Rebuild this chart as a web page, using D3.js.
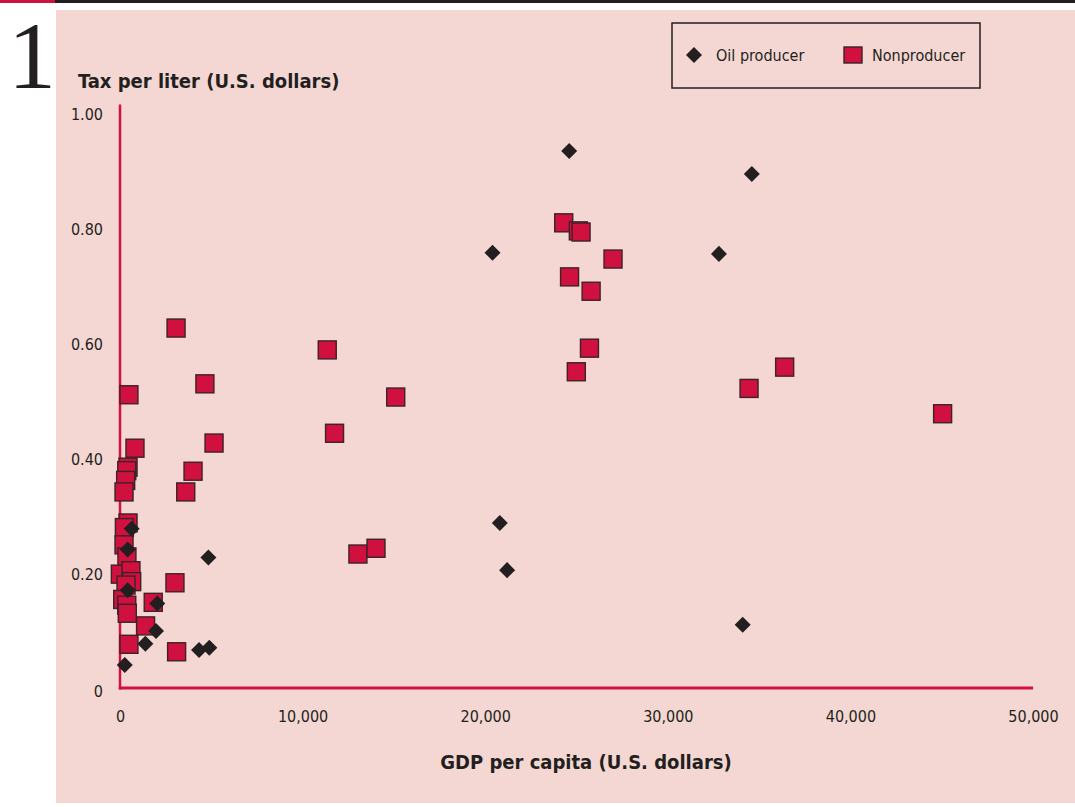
<!DOCTYPE html>
<html lang="en">
<head>
<meta charset="UTF-8">
<title>Tax per liter vs GDP per capita</title>
<script src="https://d3js.org/d3.v7.min.js"></script>
<style>
  body { margin: 0; background: #fff; }
  svg text { font-family: "Liberation Sans Narrow", "DejaVu Sans Condensed", sans-serif; fill: #231f20; }
  .tick text { font-size: 16px; }
  .axis-title { font-size: 20px; font-weight: bold; }
  .legend text { font-size: 16px; }
</style>
</head>
<body>
<div id="chart"></div>
<script>
// Oil producers (diamonds)
const oilGdp = [24600, 34600, 20400, 32800, 20800, 21200, 34100, 640, 420, 4840,
                420, 2040, 1970, 1390, 260, 4330, 4890];
const oilTax = [0.934, 0.894, 0.757, 0.755, 0.287, 0.205, 0.110, 0.277, 0.241, 0.227,
                0.170, 0.147, 0.099, 0.077, 0.040, 0.066, 0.070];

// Nonproducers (squares)
const nonGdp = [3070, 4650, 490, 5150, 820, 4000, 3600, 11350, 11750, 15100,
                13030, 14020, 24300, 25100, 25250, 27000, 24620, 25800, 25710, 24990,
                36400, 34450, 45050, 3010, 1820, 1400, 3100,
                440, 370, 310, 220, 440, 240, 220, 380, 20, 600,
                640, 330, 150, 370, 400, 490];
const nonTax = [0.626, 0.529, 0.510, 0.426, 0.417, 0.377, 0.341, 0.588, 0.443, 0.506,
                0.233, 0.243, 0.809, 0.795, 0.793, 0.746, 0.715, 0.690, 0.591, 0.550,
                0.558, 0.521, 0.477, 0.183, 0.149, 0.108, 0.063,
                0.384, 0.378, 0.361, 0.341, 0.287, 0.279, 0.249, 0.228, 0.198, 0.204,
                0.185, 0.179, 0.154, 0.144, 0.130, 0.076];

const xTicks = [0, 10000, 20000, 30000, 40000, 50000];
const yTicks = [0, 0.2, 0.4, 0.6, 0.8, 1.0];
const seriesNames = ["Oil producer", "Nonproducer"];

const W = 1075, H = 807;
const RED = "#d0103f", INK = "#231f20", PINK = "#f4d7d2";

const svg = d3.select("#chart").append("svg")
  .attr("width", W).attr("height", H);

// top rule
svg.append("rect").attr("x", 0).attr("y", 0).attr("width", W).attr("height", 3).attr("fill", INK);
svg.append("rect").attr("x", 0).attr("y", 0).attr("width", 55).attr("height", 3).attr("fill", RED);

// panel
svg.append("rect").attr("x", 56).attr("y", 10).attr("width", W - 56).attr("height", 793).attr("fill", PINK);

// figure number
svg.append("text").attr("x", 8).attr("y", 88)
  .style("font-family", "'Liberation Serif', 'DejaVu Serif', serif")
  .style("font-size", "96px")
  .text("1");

const x = d3.scaleLinear().domain([0, 50000]).range([120, 1033]);
const y = d3.scaleLinear().domain([0, 1]).range([688, 113]);

// axes
const gx = svg.append("g").attr("transform", "translate(0,688)")
  .call(d3.axisBottom(x).tickValues(xTicks).tickSize(0).tickPadding(23).tickFormat(d3.format(",")));
gx.select(".domain").remove();

const gy = svg.append("g").attr("transform", "translate(103,0)")
  .call(d3.axisLeft(y).tickValues(yTicks).tickSize(0).tickPadding(0)
    .tickFormat(d => d === 0 ? "0" : d.toFixed(2)));
gy.select(".domain").remove();
gy.selectAll(".tick text").attr("dy", "0.42em");
gy.selectAll(".tick").filter(d => d === 0).select("text").attr("dy", "0.52em");

svg.append("line").attr("x1", x(0)).attr("x2", x(0)).attr("y1", y(1.015)).attr("y2", y(0) + 1.5)
  .attr("stroke", RED).attr("stroke-width", 2.5);
svg.append("line").attr("x1", x(0) - 1.2).attr("x2", x(50000)).attr("y1", y(0)).attr("y2", y(0))
  .attr("stroke", RED).attr("stroke-width", 3);

// axis titles
svg.append("text").attr("class", "axis-title").attr("x", 78).attr("y", 88)
  .text("Tax per liter (U.S. dollars)");
svg.append("text").attr("class", "axis-title").attr("x", 586).attr("y", 769)
  .attr("text-anchor", "middle")
  .text("GDP per capita (U.S. dollars)");

// nonproducer squares
const sq = 18;
svg.append("g").selectAll("rect")
  .data(nonGdp.map((g, i) => ({ g, t: nonTax[i] })))
  .join("rect")
  .attr("x", d => x(d.g) - sq / 2)
  .attr("y", d => y(d.t) - sq / 2)
  .attr("width", sq).attr("height", sq)
  .attr("fill", RED).attr("stroke", "#3b2328").attr("stroke-width", 1.4);

// oil producer diamonds
const diamond = d3.symbol().type(d3.symbolSquare).size(128);
svg.append("g").selectAll("path")
  .data(oilGdp.map((g, i) => ({ g, t: oilTax[i] })))
  .join("path")
  .attr("d", diamond)
  .attr("transform", d => `translate(${x(d.g)},${y(d.t)}) rotate(45)`)
  .attr("fill", INK);

// legend
const lg = svg.append("g").attr("class", "legend");
lg.append("rect").attr("x", 672).attr("y", 23).attr("width", 308).attr("height", 65)
  .attr("fill", "none").attr("stroke", INK).attr("stroke-width", 1.5);
lg.append("path").attr("d", diamond).attr("transform", "translate(694,55) rotate(45)").attr("fill", INK);
lg.append("text").attr("x", 716).attr("y", 61).text(seriesNames[0]);
lg.append("rect").attr("x", 844).attr("y", 47).attr("width", 18).attr("height", 16)
  .attr("fill", RED).attr("stroke", "#3b2328").attr("stroke-width", 1.4);
lg.append("text").attr("x", 872).attr("y", 61).text(seriesNames[1]);
</script>
</body>
</html>
